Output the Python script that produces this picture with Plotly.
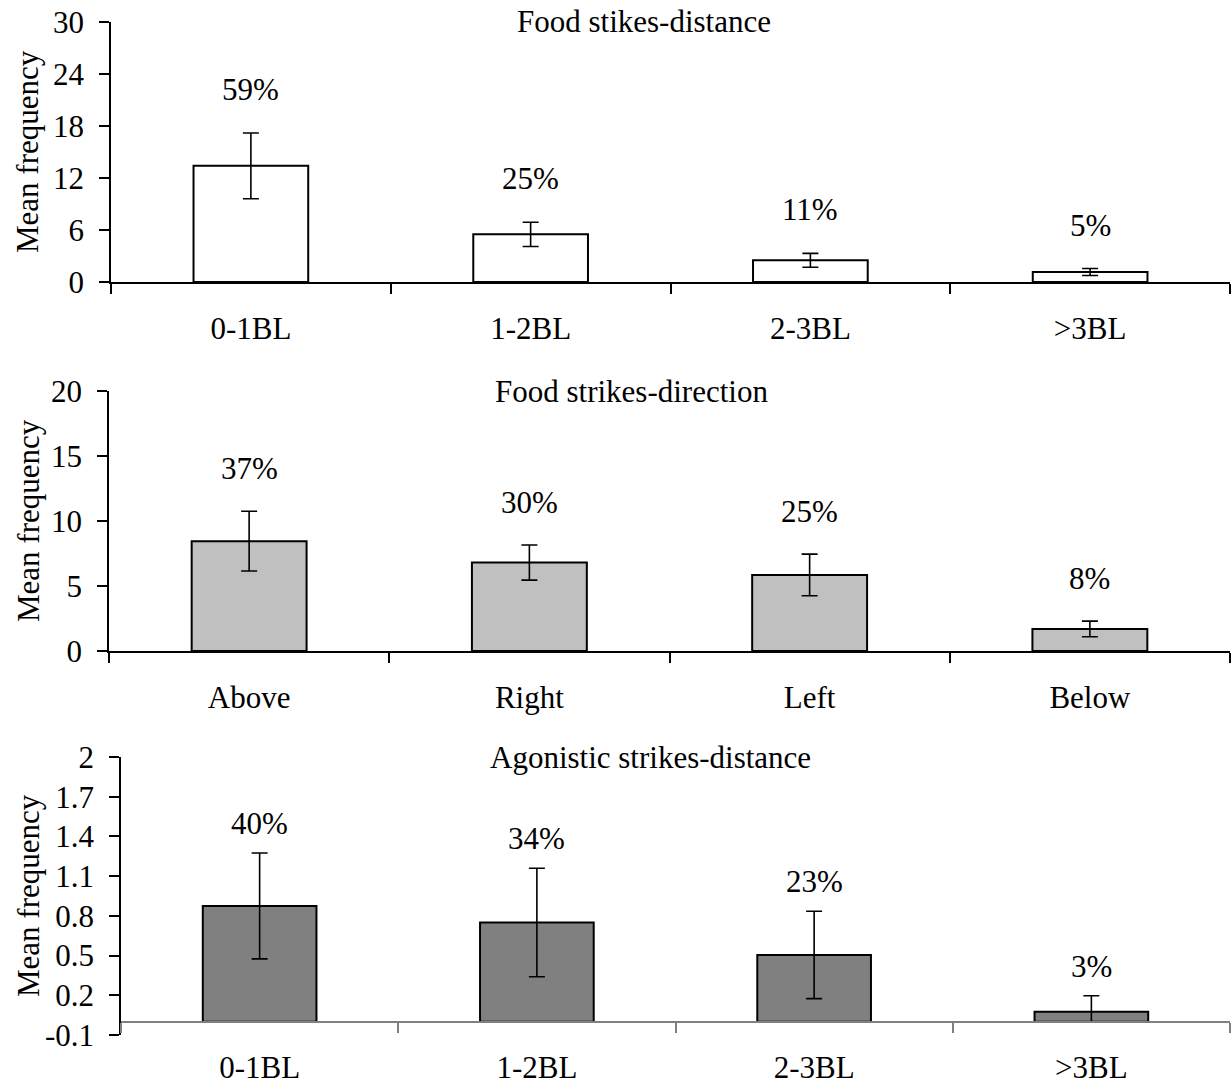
import plotly.graph_objects as go

# ---- data ----
dist_cats = ["0-1BL", "1-2BL", "2-3BL", ">3BL"]
dir_cats = ["Above", "Right", "Left", "Below"]

food_dist_mean = [13.4, 5.5, 2.5, 1.15]
food_dist_err = [3.8, 1.4, 0.8, 0.4]
food_dist_pct = ["59%", "25%", "11%", "5%"]

food_dir_mean = [8.45, 6.8, 5.85, 1.7]
food_dir_err = [2.3, 1.35, 1.6, 0.6]
food_dir_pct = ["37%", "30%", "25%", "8%"]

agon_dist_mean = [0.875, 0.75, 0.505, 0.076]
agon_dist_err = [0.40, 0.41, 0.33, 0.12]
agon_dist_pct = ["40%", "34%", "23%", "3%"]

titles = ["Food stikes-distance", "Food strikes-direction", "Agonistic strikes-distance"]
y_ticks_1 = [0, 6, 12, 18, 24, 30]
y_ticks_2 = [0, 5, 10, 15, 20]
y_ticks_3 = [-0.1, 0.2, 0.5, 0.8, 1.1, 1.4, 1.7, 2.0]
y_ticktext_3 = ["-0.1", "0.2", "0.5", "0.8", "1.1", "1.4", "1.7", "2"]

FONT = "Liberation Serif, Times New Roman, serif"
W, H = 1232, 1087
FS = 31

fig = go.Figure()

panels = [
    dict(cats=dist_cats, mean=food_dist_mean, err=food_dist_err, pct=food_dist_pct,
         color="#FFFFFF", xdom=(111 / W, 1230 / W), ydom=(1 - 282 / H, 1 - 22 / H),
         yrange=[0, 30], ticks=y_ticks_1, ticktext=None, shift=24, title_x=644, title_y=22),
    dict(cats=dir_cats, mean=food_dir_mean, err=food_dir_err, pct=food_dir_pct,
         color="#C0C0C0", xdom=(109 / W, 1230 / W), ydom=(1 - 651 / H, 1 - 391 / H),
         yrange=[0, 20], ticks=y_ticks_2, ticktext=None, shift=23, title_x=631, title_y=391),
    dict(cats=dist_cats, mean=agon_dist_mean, err=agon_dist_err, pct=agon_dist_pct,
         color="#808080", xdom=(121 / W, 1230 / W), ydom=(1 - 1035 / H, 1 - 757 / H),
         yrange=[-0.1, 2.0], ticks=y_ticks_3, ticktext=y_ticktext_3, shift=10, title_x=650, title_y=757),
]

annotations = []
for i, p in enumerate(panels, start=1):
    xa = "x" if i == 1 else f"x{i}"
    ya = "y" if i == 1 else f"y{i}"
    err_minus = [min(e, m) for e, m in zip(p["err"], p["mean"])]
    fig.add_trace(go.Bar(
        x=p["cats"], y=p["mean"], xaxis=xa, yaxis=ya, width=0.41,
        marker=dict(color=p["color"], line=dict(color="black", width=2)),
        error_y=dict(type="data", array=p["err"], arrayminus=err_minus, symmetric=False,
                     color="black", thickness=1.6, width=8),
        showlegend=False, hoverinfo="skip",
    ))
    for c, m, e, t in zip(p["cats"], p["mean"], p["err"], p["pct"]):
        annotations.append(dict(x=c, y=m + e, xref=xa, yref=ya, text=t, showarrow=False,
                                yanchor="bottom", yshift=p["shift"],
                                font=dict(family=FONT, size=FS, color="black")))
    annotations.append(dict(x=p["title_x"] / W, y=1 - p["title_y"] / H, xref="paper", yref="paper",
                            text=titles[i - 1], showarrow=False, xanchor="center", yanchor="middle",
                            font=dict(family=FONT, size=FS, color="black")))
    annotations.append(dict(x=28 / W, y=(p["ydom"][0] + p["ydom"][1]) / 2, xref="paper", yref="paper",
                            text="Mean frequency", textangle=-90, showarrow=False,
                            xanchor="center", yanchor="middle",
                            font=dict(family=FONT, size=FS, color="black")))

    lo, hi = p["yrange"]
    if lo < 0:
        xpos = p["ydom"][0] + (0 - lo) / (hi - lo) * (p["ydom"][1] - p["ydom"][0])
        xanchor_kw = dict(anchor="free", position=xpos)
        axcol = "#808080"
    else:
        xanchor_kw = dict(anchor=ya)
        axcol = "black"
    xkey = "xaxis" if i == 1 else f"xaxis{i}"
    ykey = "yaxis" if i == 1 else f"yaxis{i}"
    fig.update_layout({
        xkey: dict(domain=list(p["xdom"]), range=[-0.5, 3.5], type="category",
                   showline=True, linecolor=axcol, linewidth=1.5, ticks="outside",
                   tickson="boundaries", ticklen=10, tickcolor=axcol, tickwidth=1.5,
                   showgrid=False, zeroline=False, ticklabelstandoff=18, automargin=False,
                   tickfont=dict(family=FONT, size=FS, color="black"), **xanchor_kw),
        ykey: dict(domain=list(p["ydom"]), range=[lo, hi], anchor=xa,
                   tickmode="array", tickvals=p["ticks"],
                   ticktext=p["ticktext"] if p["ticktext"] else [str(t) for t in p["ticks"]],
                   showline=True, linecolor="black", linewidth=1.5, ticks="outside",
                   ticklen=10, tickcolor="black", tickwidth=1.5, automargin=False,
                   ticklabelstandoff=9,
                   showgrid=False, zeroline=False,
                   tickfont=dict(family=FONT, size=FS, color="black")),
    })

fig.update_layout(
    width=W, height=H, margin=dict(l=0, r=0, t=0, b=0),
    plot_bgcolor="white", paper_bgcolor="white",
    annotations=annotations, bargap=0.59,
    font=dict(family=FONT, size=FS, color="black"),
)

fig.write_html("out.html", config={"displayModeBar": False},
               post_script="document.body.style.margin='0';document.body.style.overflow='hidden';")
